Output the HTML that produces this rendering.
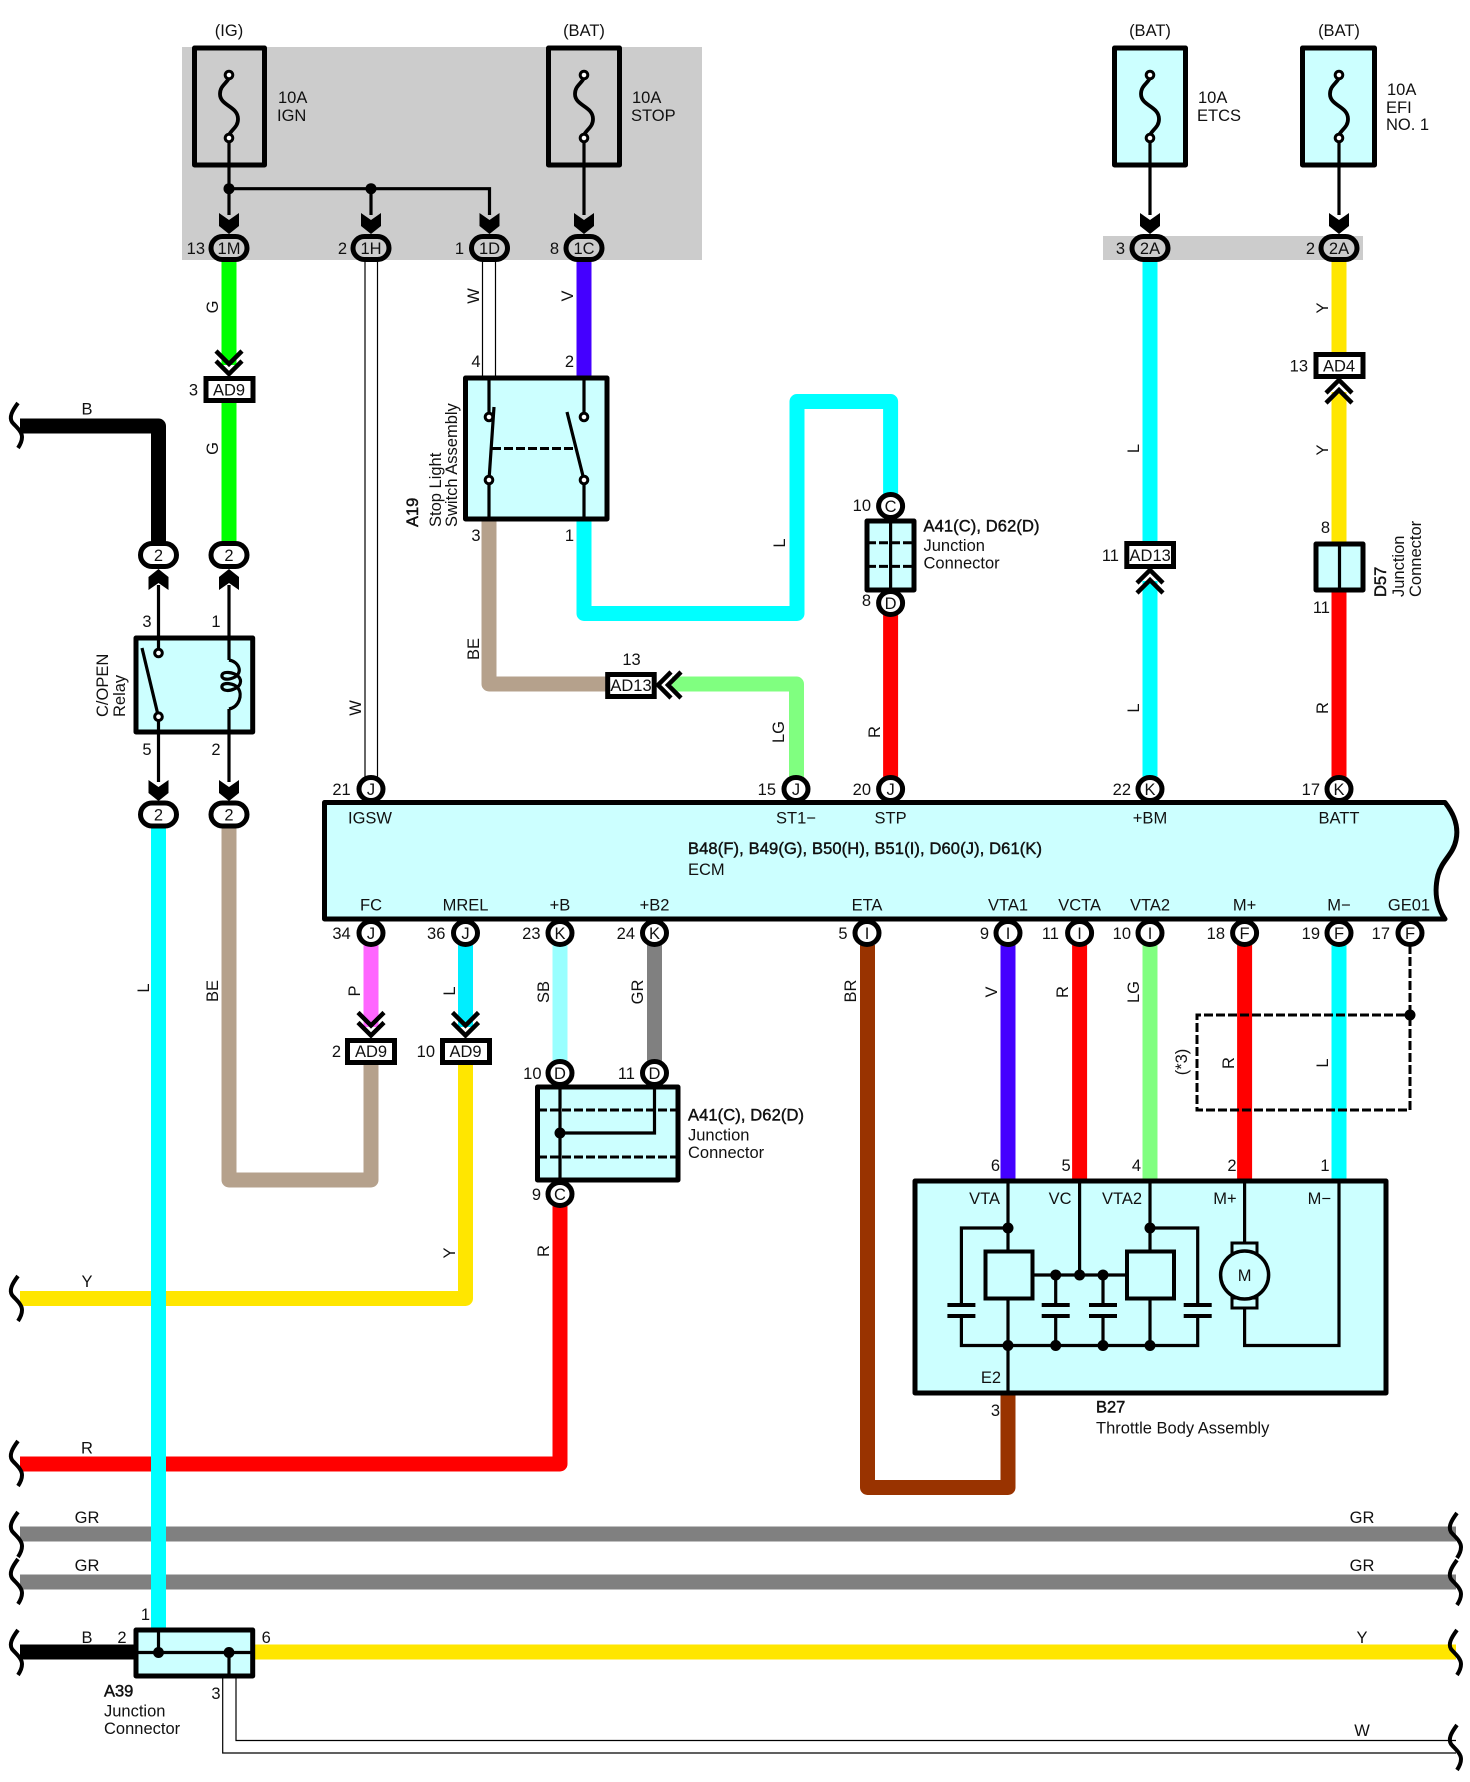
<!DOCTYPE html>
<html><head><meta charset="utf-8"><style>
html,body{margin:0;padding:0;background:#fff}
svg{display:block}
text{font-family:"Liberation Sans",sans-serif;font-size:16.5px;fill:#111}
.c{text-anchor:middle}.r{text-anchor:end}
.b{stroke:#111;stroke-width:.45px}
.w{fill:none;stroke-width:15;stroke-linejoin:round}
.k{fill:none;stroke:#000;stroke-width:3.2}
.box{fill:#ccffff;stroke:#000;stroke-width:5;stroke-linejoin:round}
.tag{fill:#fff;stroke:#000;stroke-width:5}
.ws{fill:none;stroke:#000;stroke-width:1.2}
.d{fill:none;stroke:#000;stroke-width:3;stroke-dasharray:9 3}
.pin{fill:#fff;stroke:#000;stroke-width:5}
.gp{fill:#ccc;stroke:#000;stroke-width:5}
.ch{fill:none;stroke:#000;stroke-width:4.5}
</style></head><body>
<svg width="1470" height="1782" viewBox="0 0 1470 1782" xmlns="http://www.w3.org/2000/svg">
<defs>
<path id="ad" d="M-10,0 L0,7 L10,0 L10,13 L0,21 L-10,13Z" fill="#000"/>
<g id="ch"><path class="ch" d="M-13,0 L0,13 L13,0M-13,10 L0,23 L13,10"/></g>
<g id="fu"><path d="M0,78 C-3,84 -9,86 -9,94 C-9,106 9,106 9,119 C9,127 3,129 0,135" fill="none" stroke="#000" stroke-width="3.8"/><circle cx="0" cy="75" r="3.8" fill="#fff" stroke="#000" stroke-width="3"/><circle cx="0" cy="138" r="3.8" fill="#fff" stroke="#000" stroke-width="3"/></g>
<path id="bk" d="M6,0 C0,8 -3,14 0,19 C3,23 10,28 10,34 C10,38 8,42 6,45" fill="none" stroke="#000" stroke-width="4"/>
<g id="cap"><path d="M-14,0H14M-14,11H14" stroke="#000" stroke-width="4" fill="none"/></g>
</defs>

<rect x="182" y="47" width="520" height="213" fill="#ccc"/>
<rect x="1103" y="236" width="260" height="24" fill="#ccc"/>

<!-- wires -->
<g class="w">
<path stroke="#00ff00" class="w" d="M229,260V365M229,403V542"/>
<path stroke="#4400ff" class="w" d="M584,260V380"/>
<path stroke="#00ffff" class="w" d="M1150,260V542M1150,581V780"/>
<path stroke="#ffe600" class="w" d="M1339,260V352M1339,392V542"/>
<path stroke="#ff0000" class="w" d="M1339,592V780"/>
<path stroke="#000" class="w" d="M20,426H158.5V542"/>
<path stroke="#b5a18c" class="w" d="M489,520V684H606"/>
<path stroke="#80ff80" class="w" d="M672,684H796.5V780"/>
<path stroke="#00ffff" class="w" d="M584,520V613.5H797V401.5H890.6V495"/>
<path stroke="#ff0000" class="w" d="M890.6,610V780"/>
<path stroke="#b5a18c" class="w" d="M229,828V1180H371V1065"/>
<path stroke="#ff66ff" class="w" d="M371,945V1027"/>
<path stroke="#00eeff" class="w" d="M465.5,945V1027"/>
<path stroke="#99ffff" class="w" d="M560,945V1062"/>
<path stroke="#808080" class="w" d="M654.5,945V1062"/>
<path stroke="#ffe600" class="w" d="M20,1298.5H465.5V1065"/>
<path stroke="#ff0000" class="w" d="M20,1464H560V1205"/>
<path stroke="#808080" class="w" d="M20,1534H1456M20,1582H1456"/>
<path stroke="#000" class="w" d="M20,1652H136"/>
<path stroke="#ffe600" class="w" d="M252,1652H1456"/>
<path stroke="#00ffff" class="w" d="M158.5,828V1630"/>
<path stroke="#993300" class="w" d="M867.5,945V1487.5H1008V1393"/>
<path stroke="#4400ff" class="w" d="M1008,945V1181"/>
<path stroke="#ff0000" class="w" d="M1079.6,945V1181"/>
<path stroke="#80ff80" class="w" d="M1150,945V1181"/>
<path stroke="#ff0000" class="w" d="M1244.6,945V1181"/>
<path stroke="#00ffff" class="w" d="M1339,945V1181"/>
</g>

<!-- white wires -->
<path class="ws" d="M365,260V778M377.5,260V778M482.5,260V378M495.5,260V378"/>
<path class="ws" d="M236,1678V1740.5H1456M222.7,1678V1753H1456"/>

<!-- fuses -->
<g fill="none" stroke="#000" stroke-width="5">
<rect x="194.5" y="48" width="70" height="117" stroke-linejoin="round"/>
<rect x="548.5" y="48" width="71" height="117" stroke-linejoin="round"/>
<rect x="1114.5" y="48" width="71" height="117" fill="#ccffff" stroke-linejoin="round"/>
<rect x="1302.5" y="48" width="72" height="117" fill="#ccffff" stroke-linejoin="round"/>
</g>
<use href="#fu" x="229"/><use href="#fu" x="584"/><use href="#fu" x="1150"/><use href="#fu" x="1339"/>
<path class="k" d="M229,141V215M584,141V215M1150,141V215M1339,141V215M229,188.7H489.5V215M371,188.7V215"/>
<circle cx="229" cy="188.7" r="5.5"/><circle cx="371" cy="188.7" r="5.5"/>
<use href="#ad" x="229" y="213"/><use href="#ad" x="371" y="213"/><use href="#ad" x="489.5" y="213"/><use href="#ad" x="584" y="213"/><use href="#ad" x="1150" y="213"/><use href="#ad" x="1339" y="213"/>

<!-- gray connectors -->
<rect class="gp" x="211" y="236.5" width="36" height="23" rx="11.5"/>
<rect class="gp" x="353" y="236.5" width="36" height="23" rx="11.5"/>
<rect class="gp" x="471.5" y="236.5" width="36" height="23" rx="11.5"/>
<rect class="gp" x="566" y="236.5" width="36" height="23" rx="11.5"/>
<rect class="gp" x="1132" y="236.5" width="36" height="23" rx="11.5"/>
<rect class="gp" x="1321" y="236.5" width="36" height="23" rx="11.5"/>
<text class="c" x="229" y="254">1M</text><text class="c" x="371" y="254">1H</text><text class="c" x="489.5" y="254">1D</text><text class="c" x="584" y="254">1C</text><text class="c" x="1150" y="254">2A</text><text class="c" x="1339" y="254">2A</text>
<text class="r" x="205" y="254">13</text><text class="r" x="347" y="254">2</text><text class="r" x="464" y="254">1</text><text class="r" x="559" y="254">8</text><text class="r" x="1125" y="254">3</text><text class="r" x="1315" y="254">2</text>

<text class="c" x="229" y="36">(IG)</text><text class="c" x="584" y="36">(BAT)</text><text class="c" x="1150" y="36">(BAT)</text><text class="c" x="1339" y="36">(BAT)</text>
<text x="278" y="103">10A</text><text x="277" y="121">IGN</text>
<text x="632" y="103">10A</text><text x="631" y="121">STOP</text>
<text x="1198" y="103">10A</text><text x="1197" y="121">ETCS</text>
<text x="1387" y="95">10A</text><text x="1386" y="113">EFI</text><text x="1386" y="130">NO. 1</text>

<!-- AD9 top -->
<use href="#ch" x="229" y="351"/>
<rect class="tag" x="206" y="378.5" width="47" height="22"/><text class="c" x="229" y="395.5">AD9</text><text class="r" x="198" y="395.5">3</text>

<!-- AD4, AD13 -->
<rect class="tag" x="1316" y="354.5" width="47" height="22"/><text class="c" x="1339" y="371.5">AD4</text><text class="r" x="1308" y="371.5">13</text>
<use href="#ch" transform="translate(1339,403) scale(1,-1)"/>
<rect class="tag" x="1126.8" y="543.5" width="46.7" height="23"/><text class="c" x="1150.2" y="561">AD13</text><text class="r" x="1119" y="561">11</text>
<use href="#ch" transform="translate(1150,593) scale(1,-1)"/>

<!-- D57 -->
<rect class="box" x="1316" y="544" width="47" height="46"/><path class="k" d="M1339.5,543V591"/>
<text class="r" x="1330" y="533">8</text><text class="r" x="1330" y="613">11</text>
<text class="b" transform="translate(1386,597) rotate(-90)">D57</text>
<text transform="translate(1404,597) rotate(-90)">Junction</text>
<text transform="translate(1421,597) rotate(-90)">Connector</text>

<!-- Stop switch -->
<rect class="box" x="465.5" y="378" width="141.5" height="141"/>
<path class="k" d="M489,378V413M584,378V413M489,484V519M584,484V519M494,407L489,480M567,412L584,480"/>
<path d="M492,448.5H576" fill="none" stroke="#000" stroke-width="3" stroke-dasharray="9 3"/>
<g fill="#fff" stroke="#000" stroke-width="3"><circle cx="489" cy="417" r="3.8"/><circle cx="584" cy="417" r="3.8"/><circle cx="489" cy="480" r="3.8"/><circle cx="584" cy="480" r="3.8"/></g>
<text class="r" x="480.5" y="367">4</text><text class="r" x="574" y="367">2</text><text class="r" x="480.5" y="541">3</text><text class="r" x="574" y="541">1</text>
<text class="b" transform="translate(418,527) rotate(-90)">A19</text>
<text transform="translate(441,527) rotate(-90)">Stop Light</text>
<text transform="translate(457,527) rotate(-90)">Switch Assembly</text>

<!-- AD13 mid -->
<rect class="tag" x="607.7" y="674.5" width="46.5" height="22"/><text class="c" x="631" y="691">AD13</text><text class="c" x="631.5" y="665">13</text>
<path class="ch" d="M671,672L658,685L671,698M681,672L668,685L681,698"/>

<!-- A41 upper -->
<rect class="box" x="867" y="521" width="47" height="69"/>
<path class="k" d="M890.6,520V592"/><path class="d" d="M867,542.7H914M867,566.4H914"/>
<ellipse class="pin" cx="890.6" cy="506" rx="12" ry="11.5"/><text class="c" x="890.6" y="512">C</text><text class="r" x="871" y="511">10</text>
<ellipse class="pin" cx="890.6" cy="603" rx="12" ry="11.5"/><text class="c" x="890.6" y="609">D</text><text class="r" x="871" y="606">8</text>
<text class="b" x="923.5" y="531.5" textLength="116">A41(C), D62(D)</text><text x="923.5" y="551">Junction</text><text x="923.5" y="568.5">Connector</text>

<!-- pair connectors -->
<rect class="pin" x="140.5" y="543.5" width="36" height="23" rx="11.5"/><text class="c" x="158.5" y="561">2</text>
<rect class="pin" x="211" y="543.5" width="36" height="23" rx="11.5"/><text class="c" x="229" y="561">2</text>
<use href="#ad" transform="translate(158.5,590) scale(1,-1)"/><use href="#ad" transform="translate(229,590) scale(1,-1)"/>
<path class="k" d="M158.5,585V636M229,585V636M158.5,732V782M229,732V782"/>

<!-- relay -->
<rect class="box" x="136" y="638" width="116.7" height="94"/>
<path class="k" d="M158.5,636V650M158.5,720V734M229,636V660M229,709V734M142,648L158.5,717"/>
<path class="k" stroke-width="2.5" d="M229,660C239,662 243,672 235,677C227,681 221,679 222,675C223,671 233,672 238,676C243,681 240,687 234,689C227,692 221,690 222,686C223,682 234,683 238,688C243,695 239,707 229,709"/>
<g fill="#fff" stroke="#000" stroke-width="3"><circle cx="158.5" cy="653" r="3.8"/><circle cx="158.5" cy="716.7" r="3.8"/></g>
<text class="c" x="147" y="627">3</text><text class="c" x="216" y="627">1</text><text class="c" x="147" y="755">5</text><text class="c" x="216" y="755">2</text>
<text transform="translate(108,717) rotate(-90)">C/OPEN</text><text transform="translate(125,717) rotate(-90)">Relay</text>
<use href="#ad" x="158.5" y="780"/><use href="#ad" x="229" y="780"/>
<rect class="pin" x="140.5" y="803" width="36" height="23" rx="11.5"/><text class="c" x="158.5" y="820.5">2</text>
<rect class="pin" x="211" y="803" width="36" height="23" rx="11.5"/><text class="c" x="229" y="820.5">2</text>

<!-- ECM -->
<path class="box" d="M324.5,802.5H1445C1454,814 1459,826 1456,840C1453,855 1442,860 1438,875C1434,892 1436,906 1445,919H324.5Z"/>
<ellipse class="pin" cx="371" cy="789" rx="12" ry="11.5"/><ellipse class="pin" cx="796" cy="789" rx="12" ry="11.5"/><ellipse class="pin" cx="890.6" cy="789" rx="12" ry="11.5"/><ellipse class="pin" cx="1150" cy="789" rx="12" ry="11.5"/><ellipse class="pin" cx="1339" cy="789" rx="12" ry="11.5"/>
<ellipse class="pin" cx="371" cy="933" rx="12" ry="11.5"/><ellipse class="pin" cx="465.5" cy="933" rx="12" ry="11.5"/><ellipse class="pin" cx="560" cy="933" rx="12" ry="11.5"/><ellipse class="pin" cx="654.5" cy="933" rx="12" ry="11.5"/><ellipse class="pin" cx="867" cy="933" rx="12" ry="11.5"/><ellipse class="pin" cx="1008" cy="933" rx="12" ry="11.5"/><ellipse class="pin" cx="1079.6" cy="933" rx="12" ry="11.5"/><ellipse class="pin" cx="1150" cy="933" rx="12" ry="11.5"/><ellipse class="pin" cx="1244.6" cy="933" rx="12" ry="11.5"/><ellipse class="pin" cx="1339" cy="933" rx="12" ry="11.5"/><ellipse class="pin" cx="1410" cy="933" rx="12" ry="11.5"/>
<text class="c" x="371" y="795">J</text><text class="c" x="796" y="795">J</text><text class="c" x="890.6" y="795">J</text><text class="c" x="1150" y="795">K</text><text class="c" x="1339" y="795">K</text>
<text class="c" x="371" y="939">J</text><text class="c" x="465.5" y="939">J</text><text class="c" x="560" y="939">K</text><text class="c" x="654.5" y="939">K</text><text class="c" x="867" y="939">I</text><text class="c" x="1008" y="939">I</text><text class="c" x="1079.6" y="939">I</text><text class="c" x="1150" y="939">I</text><text class="c" x="1244.6" y="939">F</text><text class="c" x="1339" y="939">F</text><text class="c" x="1410" y="939">F</text>
<text class="c" x="370" y="823.5">IGSW</text>
<text class="c" x="796" y="823.5">ST1−</text><text class="c" x="890.6" y="823.5">STP</text><text class="c" x="1150" y="823.5">+BM</text><text class="c" x="1339" y="823.5">BATT</text>
<text class="c" x="371" y="910.5">FC</text><text class="c" x="465.5" y="910.5">MREL</text><text class="c" x="560" y="910.5">+B</text><text class="c" x="654.5" y="910.5">+B2</text><text class="c" x="867" y="910.5">ETA</text><text class="c" x="1008" y="910.5">VTA1</text><text class="c" x="1079.6" y="910.5">VCTA</text><text class="c" x="1150" y="910.5">VTA2</text><text class="c" x="1244.6" y="910.5">M+</text><text class="c" x="1339" y="910.5">M−</text><text class="c" x="1409" y="910.5">GE01</text>
<text class="r" x="350.7" y="795">21</text><text class="r" x="776" y="795">15</text><text class="r" x="871" y="795">20</text><text class="r" x="1131" y="795">22</text><text class="r" x="1320" y="795">17</text>
<text class="r" x="350.7" y="939">34</text><text class="r" x="445.4" y="939">36</text><text class="r" x="540.5" y="939">23</text><text class="r" x="635" y="939">24</text><text class="r" x="847.5" y="939">5</text><text class="r" x="989" y="939">9</text><text class="r" x="1059" y="939">11</text><text class="r" x="1131" y="939">10</text><text class="r" x="1225" y="939">18</text><text class="r" x="1320" y="939">19</text><text class="r" x="1390" y="939">17</text>
<text class="b" x="688" y="854" textLength="354">B48(F), B49(G), B50(H), B51(I), D60(J), D61(K)</text><text x="688" y="875">ECM</text>

<!-- AD9 lower -->
<use href="#ch" x="371" y="1012.5"/><use href="#ch" x="465.5" y="1012.5"/>
<rect class="tag" x="347.5" y="1040.5" width="47" height="22"/><text class="c" x="371" y="1057">AD9</text><text class="r" x="341" y="1057">2</text>
<rect class="tag" x="442.5" y="1040.5" width="47" height="22"/><text class="c" x="465.5" y="1057">AD9</text><text class="r" x="435" y="1057">10</text>

<!-- A41 lower -->
<rect class="box" x="537.5" y="1087" width="140.5" height="93"/>
<path class="k" d="M560,1085V1182M654.5,1085V1133H560"/><path class="d" d="M538,1110H678M538,1157H678"/>
<circle cx="560" cy="1133" r="5.5"/>
<ellipse class="pin" cx="560" cy="1073" rx="12" ry="11.5"/><text class="c" x="560" y="1079">D</text><text class="r" x="541.5" y="1079">10</text>
<ellipse class="pin" cx="654.5" cy="1073" rx="12" ry="11.5"/><text class="c" x="654.5" y="1079">D</text><text class="r" x="635" y="1079">11</text>
<ellipse class="pin" cx="560" cy="1194" rx="12" ry="11.5"/><text class="c" x="560" y="1200">C</text><text class="r" x="541" y="1200">9</text>
<text class="b" x="688" y="1120.5" textLength="116">A41(C), D62(D)</text><text x="688" y="1140.5">Junction</text><text x="688" y="1158">Connector</text>

<!-- Throttle body -->
<rect class="box" x="915" y="1181" width="471" height="212"/>
<path class="k" d="M1008,1181V1250M1008,1300V1393M1079.6,1181V1275M1150,1181V1250M1150,1300V1345.5M1244.6,1181V1243M1339,1181V1345.5H1244.6V1308M1008,1228H961.4V1305M961.4,1316V1345.5H1197.7V1316M1197.7,1305V1228H1150M1033,1275H1125M1055.7,1275V1305M1055.7,1316V1345M1103,1275V1305M1103,1316V1345"/>
<rect x="985.5" y="1251.5" width="47" height="47" fill="#ccffff" stroke="#000" stroke-width="4"/>
<rect x="1127" y="1251.5" width="47" height="47" fill="#ccffff" stroke="#000" stroke-width="4"/>
<use href="#cap" x="961.4" y="1305"/><use href="#cap" x="1055.7" y="1305"/><use href="#cap" x="1103" y="1305"/><use href="#cap" x="1197.7" y="1305"/>
<circle cx="1008" cy="1228" r="5.5"/><circle cx="1150" cy="1228" r="5.5"/><circle cx="1055.7" cy="1275" r="5.5"/><circle cx="1079.6" cy="1275" r="5.5"/><circle cx="1103" cy="1275" r="5.5"/><circle cx="1008" cy="1345.5" r="5.5"/><circle cx="1055.7" cy="1345.5" r="5.5"/><circle cx="1103" cy="1345.5" r="5.5"/><circle cx="1150" cy="1345.5" r="5.5"/>
<rect x="1232" y="1243" width="25" height="10" fill="#ccffff" stroke="#000" stroke-width="3"/>
<rect x="1232" y="1298" width="25" height="10" fill="#ccffff" stroke="#000" stroke-width="3"/>
<ellipse cx="1244.6" cy="1275" rx="24" ry="24" fill="#ccffff" stroke="#000" stroke-width="3.5"/>
<text class="c" x="1244.6" y="1281">M</text>
<text class="r" x="1000" y="1171">6</text><text class="r" x="1070.7" y="1171">5</text><text class="r" x="1141" y="1171">4</text><text class="r" x="1236.6" y="1171">2</text><text class="r" x="1329.5" y="1171">1</text>
<text class="r" x="1000" y="1204">VTA</text><text class="r" x="1071.6" y="1204">VC</text><text class="r" x="1142" y="1204">VTA2</text><text class="r" x="1236.6" y="1204">M+</text><text class="r" x="1331" y="1204">M−</text>
<text class="r" x="1001" y="1383">E2</text><text class="r" x="1000" y="1416">3</text>
<text class="b" x="1096" y="1412.5">B27</text><text x="1096" y="1433.5">Throttle Body Assembly</text>

<!-- dashed -->
<path class="d" d="M1410,945V1110H1197V1015H1410"/><circle cx="1410" cy="1015" r="5.5"/>

<!-- A39 -->
<rect class="box" x="136" y="1630" width="116.7" height="46"/>
<path class="k" d="M136,1652.5H253M158.5,1628V1652M229,1652V1678"/>
<circle cx="158.5" cy="1652.5" r="5.5"/><circle cx="229" cy="1652.5" r="5.5"/>
<text class="r" x="150" y="1620">1</text><text class="r" x="126.6" y="1643">2</text><text x="261.6" y="1643">6</text><text class="c" x="216" y="1699">3</text>
<text class="b" x="104" y="1696.5">A39</text><text x="104" y="1716.5">Junction</text><text x="104" y="1734">Connector</text>

<!-- brackets -->
<use href="#bk" x="12" y="403"/><use href="#bk" x="12" y="1276"/><use href="#bk" x="12" y="1441"/><use href="#bk" x="12" y="1512"/><use href="#bk" x="12" y="1559"/><use href="#bk" x="12" y="1630"/>
<use href="#bk" x="1451" y="1513"/><use href="#bk" x="1451" y="1560"/><use href="#bk" x="1451" y="1630"/><use href="#bk" x="1451" y="1725"/>

<!-- horizontal wire labels -->
<text class="c" x="87" y="414.5">B</text><text class="c" x="87" y="1287">Y</text><text class="c" x="87" y="1453.5">R</text><text class="c" x="87" y="1523">GR</text><text class="c" x="87" y="1571">GR</text><text class="c" x="87" y="1643">B</text>
<text class="c" x="1362" y="1523">GR</text><text class="c" x="1362" y="1571">GR</text><text class="c" x="1362" y="1643">Y</text><text class="c" x="1362" y="1736">W</text>

<!-- rotated wire labels -->
<text class="c" transform="translate(218,307) rotate(-90)">G</text>
<text class="c" transform="translate(218,448.5) rotate(-90)">G</text>
<text class="c" transform="translate(479,296) rotate(-90)">W</text>
<text class="c" transform="translate(573,296) rotate(-90)">V</text>
<text class="c" transform="translate(1139,448.5) rotate(-90)">L</text>
<text class="c" transform="translate(1139,708) rotate(-90)">L</text>
<text class="c" transform="translate(1328,308) rotate(-90)">Y</text>
<text class="c" transform="translate(1328,450) rotate(-90)">Y</text>
<text class="c" transform="translate(1328,708) rotate(-90)">R</text>
<text class="c" transform="translate(479,649) rotate(-90)">BE</text>
<text class="c" transform="translate(785,543) rotate(-90)">L</text>
<text class="c" transform="translate(784,732) rotate(-90)">LG</text>
<text class="c" transform="translate(880,732) rotate(-90)">R</text>
<text class="c" transform="translate(361,708) rotate(-90)">W</text>
<text class="c" transform="translate(149,988) rotate(-90)">L</text>
<text class="c" transform="translate(218,991) rotate(-90)">BE</text>
<text class="c" transform="translate(360,991) rotate(-90)">P</text>
<text class="c" transform="translate(455,991) rotate(-90)">L</text>
<text class="c" transform="translate(549,992) rotate(-90)">SB</text>
<text class="c" transform="translate(643,992) rotate(-90)">GR</text>
<text class="c" transform="translate(856,991) rotate(-90)">BR</text>
<text class="c" transform="translate(997,992) rotate(-90)">V</text>
<text class="c" transform="translate(1068,992) rotate(-90)">R</text>
<text class="c" transform="translate(1139,992) rotate(-90)">LG</text>
<text class="c" transform="translate(1234,1063) rotate(-90)">R</text>
<text class="c" transform="translate(1328,1063) rotate(-90)">L</text>
<text class="c" transform="translate(1187,1062) rotate(-90)">(*3)</text>
<text class="c" transform="translate(455,1253) rotate(-90)">Y</text>
<text class="c" transform="translate(549,1251) rotate(-90)">R</text>
</svg>
</body></html>
